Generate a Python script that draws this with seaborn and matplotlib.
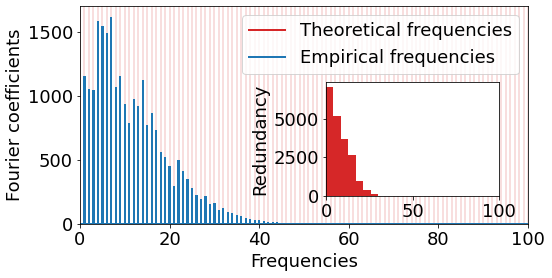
import numpy as np
import matplotlib
matplotlib.use("Agg")
import matplotlib.pyplot as plt
from matplotlib.lines import Line2D
import seaborn as sns
import pandas as pd

# Data
freqs = list(range(0, 101))
empirical_head = [0, 1157, 1053, 1051, 1588, 1551, 1494, 1619, 1071, 1157, 941,
                  787, 978, 925, 1126, 772, 866, 735, 561, 524, 456,
                  300, 502, 414, 349, 284, 225, 194, 218, 157, 165,
                  108, 123, 96, 84, 69, 60, 50, 39, 33, 29,
                  21, 18, 16, 13, 9, 6, 4, 3, 2, 1]
empirical = empirical_head + [0] * (len(freqs) - len(empirical_head))
hist_edges = [0, 4.3, 8.6, 12.9, 17.2, 21.5, 25.8, 30.1]
hist_counts = [7043, 5219, 3673, 2642, 966, 387, 129]

RED = "#d62728"
BLUE = "#1f77b4"
FS = 18
DPI = 72

plt.rcParams.update({"font.size": FS, "font.family": ["DejaVu Sans"]})

fig = plt.figure(figsize=(552 / DPI, 278 / DPI), dpi=DPI)
ax = fig.add_axes([0.1449, 0.1942, 0.9565 - 0.1449, 0.9784 - 0.1942])

# Theoretical frequencies: faint red lines spanning full height
ax.vlines(freqs, 0, 1, transform=ax.get_xaxis_transform(), color=RED,
          alpha=0.15, lw=2, zorder=1)

df = pd.DataFrame({"freq": freqs, "coef": empirical})
sns.barplot(data=df, x="freq", y="coef", native_scale=True, width=0.5,
            color=BLUE, saturation=1, linewidth=0, errorbar=None, ax=ax,
            zorder=2)
ax.axhline(0, color=BLUE, lw=2, zorder=2)

ax.set_xlim(0, 100)
ax.set_ylim(0, 1705)
ax.set_xticks([0, 20, 40, 60, 80, 100])
ax.set_yticks([0, 500, 1000, 1500])
ax.set_xlabel("Frequencies", fontsize=FS)
ax.set_ylabel("Fourier coefficients", fontsize=FS)
ax.tick_params(labelsize=FS)

handles = [Line2D([], [], color=RED, lw=2), Line2D([], [], color=BLUE, lw=2)]
ax.legend(handles, ["Theoretical frequencies", "Empirical frequencies"],
          loc="upper right", fontsize=FS)

# Inset histogram
axin = fig.add_axes([326 / 552, 1 - 196 / 278, 173 / 552, 114 / 278])
centers = [(hist_edges[i] + hist_edges[i + 1]) / 2 for i in range(len(hist_counts))]
sns.histplot(x=centers, weights=hist_counts, bins=hist_edges, color=RED,
             alpha=1, linewidth=0, ax=axin)
axin.set_xlim(0, 100)
axin.set_ylim(0, 7395)
axin.set_xticks([0, 50, 100])
axin.set_yticks([0, 2500, 5000])
axin.set_ylabel("Redundancy", fontsize=FS)
axin.set_xlabel("")
axin.tick_params(labelsize=FS)

fig.savefig("out.png", dpi=DPI)
